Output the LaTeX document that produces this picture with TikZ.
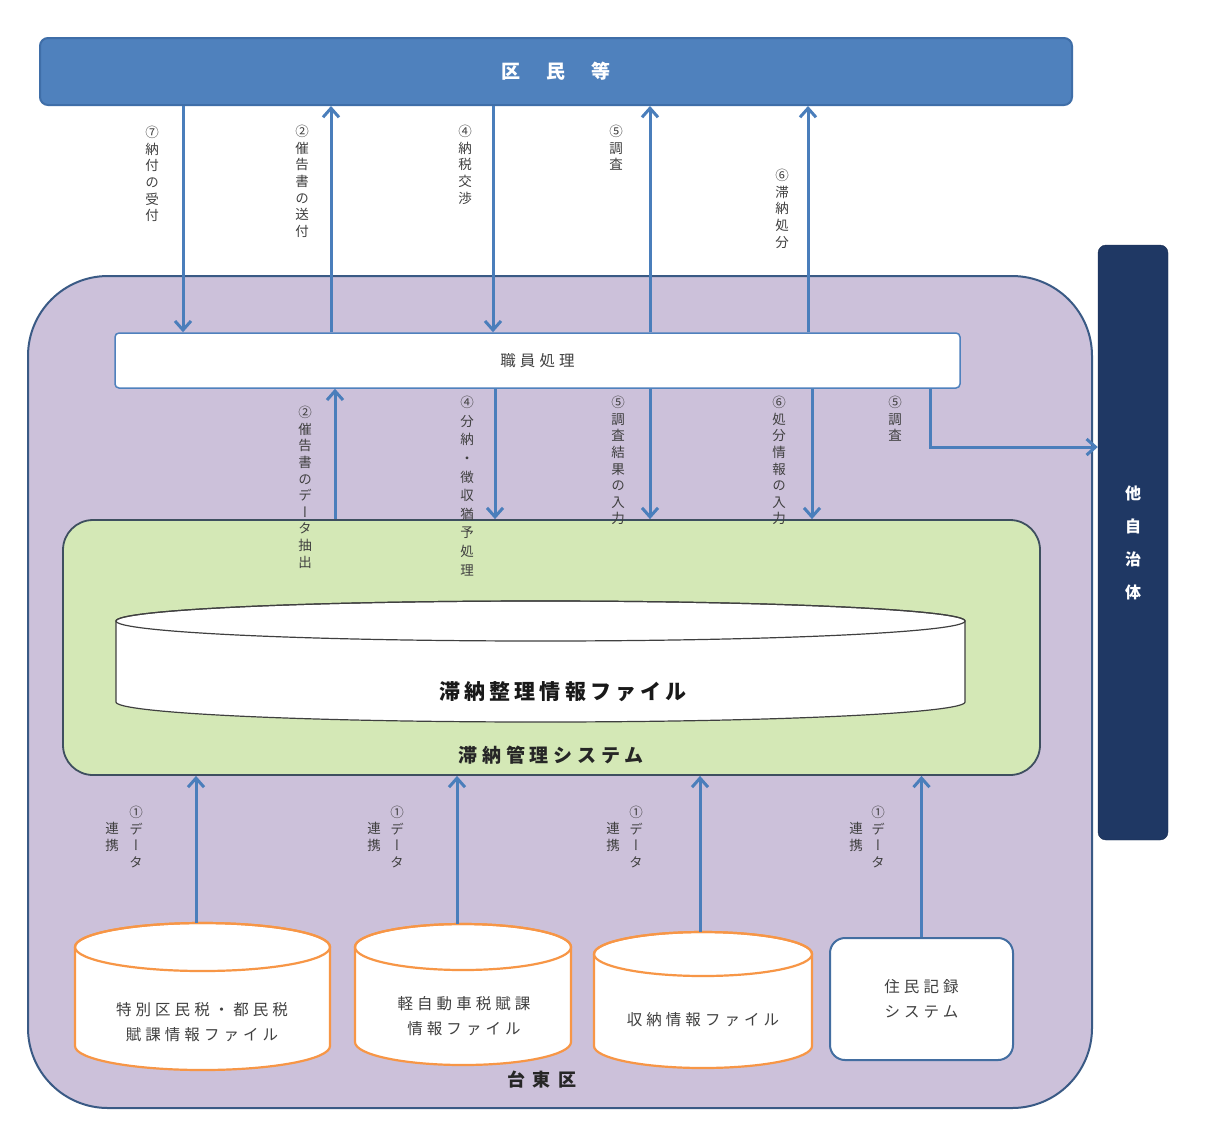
\documentclass[tikz,border=0pt]{standalone}
\usepackage{fontspec}
\usepackage{graphicx}
\newfontfamily\cjk{Noto Sans CJK JP}
\newfontfamily\cjkv[RawFeature=+vert]{Noto Sans CJK JP}
\usetikzlibrary{arrows.meta}
\definecolor{kblue}{HTML}{4F81BD}
\definecolor{kborder}{HTML}{3F6EA8}
\definecolor{navyb}{HTML}{1F3864}
\definecolor{lav}{HTML}{CCC1DA}
\definecolor{lavborder}{HTML}{3A5A85}
\definecolor{sysgreen}{HTML}{D4E8B6}
\definecolor{sysborder}{HTML}{3E4F5F}
\definecolor{arrowblue}{HTML}{4A7EBB}
\definecolor{orng}{HTML}{F79646}
\definecolor{lblgray}{HTML}{404040}
% #1 style, #2 left x, #3 right x, #4 top ellipse centre y, #5 ry, #6 bottom y
\newcommand\mycyl[6][]{%
  \pgfmathsetmacro\cylrx{(#3-#2)/2}%
  \pgfmathsetmacro\cylcx{(#3+#2)/2}%
  \pgfmathsetmacro\cylby{#6-#5}%
  \path[#1] (#2,#4) -- (#2,\cylby) arc[start angle=180,end angle=360,x radius=\cylrx pt,y radius=#5 pt] -- (#3,#4) arc[start angle=0,end angle=180,x radius=\cylrx pt,y radius=#5 pt] -- cycle;
  \path[#1,fill=none] (\cylcx,#4) ellipse[x radius=\cylrx pt,y radius=#5 pt];
}
\tikzset{
  arr/.style={draw=arrowblue, line width=3pt, -{Straight Barb[length=9pt,width=16pt]}},
  vlabel/.style={font=\cjkv\fontsize{13.5}{16.6}\selectfont, align=center, inner sep=0pt, text=lblgray, anchor=north},
  boxtext/.style={font=\cjk\fontsize{15.5}{25}\selectfont\addfontfeature{LetterSpace=26}, align=center, text=lblgray, inner sep=0pt},
  filecyl/.style={fill=white, draw=orng, line width=2.2pt}
}
\begin{document}
\begin{tikzpicture}[x=1pt,y=-1pt]
\useasboundingbox (0,0) rectangle (1230,1128);
\fill[white] (0,0) rectangle (1230,1128);

% outer area
\node[draw=lavborder, line width=2pt, fill=lav, rounded corners=80pt, minimum width=1064pt, minimum height=832pt, inner sep=0pt] (taito) at (560,692) {};
\node[font=\cjk\bfseries\fontsize{18}{20}\selectfont\addfontfeature{LetterSpace=40}, text=black!85, inner sep=0pt] (taitolabel) at (542,1080) {台東区};

% top bar
\node[draw=kborder, line width=2pt, fill=kblue, rounded corners=8pt, minimum width=1032pt, minimum height=67pt, text=white, font=\cjk\bfseries\fontsize{19}{20}\selectfont] (kumin) at (556,71.5) {区\hspace{26pt}民\hspace{26pt}等};

% other municipality
\node[draw=navyb!80!black, fill=navyb, rounded corners=8pt, minimum width=70pt, minimum height=595pt, text=white, align=center, font=\cjk\bfseries\fontsize{16}{33}\selectfont] (tajichitai) at (1133,542.5) {他\\自\\治\\体};

% staff processing
\node[draw=kblue, line width=1.5pt, fill=white, rounded corners=4pt, minimum width=845pt, minimum height=55pt, font=\cjk\fontsize{15.5}{18}\selectfont\addfontfeature{LetterSpace=26}, text=lblgray] (shokuin) at (537.5,360.5) {職員処理};

% system
\node[draw=sysborder, line width=1.8pt, fill=sysgreen, rounded corners=30pt, minimum width=977pt, minimum height=255pt] (system) at (551.5,647.5) {};
\node[font=\cjk\bfseries\fontsize{19}{20}\selectfont\addfontfeature{LetterSpace=25}, text=black!85, inner sep=0pt] (systemlabel) at (551,755) {滞納管理システム};

\mycyl[fill=white,draw=black!75,line width=1.2pt]{116}{965}{621}{20}{722}
\node[font=\cjk\bfseries\fontsize{21}{22}\selectfont\addfontfeature{LetterSpace=20}, text=black!90, inner sep=0pt] (filelabel) at (563,692) {滞納整理情報ファイル};

% bottom files
\mycyl[filecyl]{75}{330}{947}{24}{1070}
\mycyl[filecyl]{355}{571}{947}{23}{1065}
\mycyl[filecyl]{594}{812}{954}{22}{1068}
\node[draw=kblue!85!black, line width=2pt, fill=white, rounded corners=15pt, minimum width=183pt, minimum height=122pt, boxtext] (jumin) at (921.5,999) {住民記録\\システム};
\node[boxtext] (f1) at (202,1022) {特別区民税・都民税\\賦課情報ファイル};
\node[boxtext] (f2) at (464,1016) {軽自動車税賦課\\情報ファイル};
\node[boxtext] (f3) at (703,1020) {収納情報ファイル};

\coordinate (c1) at (196,923);
\coordinate (c2) at (457,924);
\coordinate (c3) at (700,932);
\draw[arr] (c1) -- (system.south -| c1);
\draw[arr] (c2) -- (system.south -| c2);
\draw[arr] (c3) -- (system.south -| c3);
\draw[arr] (jumin.north) -- (system.south -| jumin.north);

% data link labels
\node[vlabel] (d1a) at (136,806) {①\\デ\\ー\\タ};
\node[vlabel] (d1b) at (112,822) {連\\携};
\node[vlabel] (d2a) at (397,806) {①\\デ\\ー\\タ};
\node[vlabel] (d2b) at (374,822) {連\\携};
\node[vlabel] (d3a) at (636,806) {①\\デ\\ー\\タ};
\node[vlabel] (d3b) at (613,822) {連\\携};
\node[vlabel] (d4a) at (878,806) {①\\デ\\ー\\タ};
\node[vlabel] (d4b) at (856,822) {連\\携};

% top arrows
\coordinate (xa) at (183,0);
\coordinate (xb) at (331,0);
\coordinate (xc) at (493,0);
\coordinate (xd) at (650,0);
\coordinate (xe) at (808,0);
\draw[arr] (kumin.south -| xa) -- (shokuin.north -| xa);
\draw[arr] (shokuin.north -| xb) -- (kumin.south -| xb);
\draw[arr] (kumin.south -| xc) -- (shokuin.north -| xc);
\draw[arr] (shokuin.north -| xd) -- (kumin.south -| xd);
\draw[arr] (shokuin.north -| xe) -- (kumin.south -| xe);

% middle arrows
\coordinate (xf) at (335,0);
\coordinate (xg) at (495,0);
\coordinate (xh) at (650,0);
\coordinate (xi) at (812,0);
\coordinate (g) at (930,447);
\draw[arr] (system.north -| xf) -- (shokuin.south -| xf);
\draw[arr] (shokuin.south -| xg) -- (system.north -| xg);
\draw[arr] (shokuin.south -| xh) -- (system.north -| xh);
\draw[arr] (shokuin.south -| xi) -- (system.north -| xi);
\draw[arr] (shokuin.south -| g) |- (tajichitai.west |- g);

% labels
\node[vlabel] (l1) at (152,126) {⑦\\納\\付\\の\\受\\付};
\node[vlabel] (l2) at (302,125) {②\\催\\告\\書\\の\\送\\付};
\node[vlabel] (l3) at (465,125) {④\\納\\税\\交\\渉};
\node[vlabel] (l4) at (616,125) {⑤\\調\\査};
\node[vlabel] (l5) at (782,169) {⑥\\滞\\納\\処\\分};
\node[vlabel] (l6) at (305,406) {②\\催\\告\\書\\の\\デ\\ー\\タ\\抽\\出};
\node[vlabel, font=\cjkv\fontsize{13.5}{18.6}\selectfont] (l7) at (467,396) {④\\分\\納\\・\\徴\\収\\猶\\予\\処\\理};
\node[vlabel] (l8) at (618,396) {⑤\\調\\査\\結\\果\\の\\入\\力};
\node[vlabel] (l9) at (779,396) {⑥\\処\\分\\情\\報\\の\\入\\力};
\node[vlabel] (l10) at (895,396) {⑤\\調\\査};
\end{tikzpicture}
\end{document}
